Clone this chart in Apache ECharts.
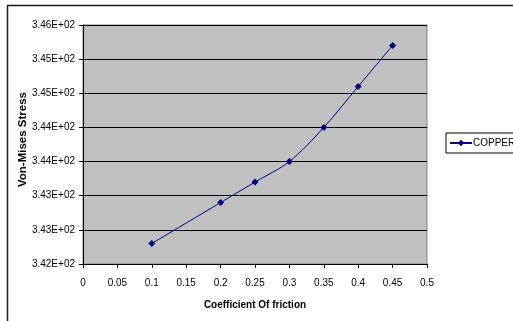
<!DOCTYPE html>
<html>
<head>
<meta charset="utf-8">
<script src="https://cdn.jsdelivr.net/npm/echarts@6/dist/echarts.min.js"></script>
<style>
  html, body { margin: 0; padding: 0; background: #fff; }
  #chart { width: 513px; height: 321px; }
</style>
</head>
<body>
<div id="chart"></div>
<script>
// Von-Mises stress against coefficient of friction for copper
var friction = [0.1, 0.2, 0.25, 0.3, 0.35, 0.4, 0.45];
var copperStress = [342.3, 342.9, 343.2, 343.5, 344.0, 344.6, 345.2];
var seriesName = 'COPPER';
var xTitle = 'Coefficient Of friction';
var yTitle = 'Von-Mises Stress';

var chart = echarts.init(document.getElementById('chart'), null, { renderer: 'canvas' });
var font = 'Liberation Sans, Arial, sans-serif';

chart.setOption({
  animation: false,
  backgroundColor: '#ffffff',
  graphic: [{
    type: 'rect',
    shape: { x: 7.5, y: 5.5, width: 530, height: 340 },
    style: { fill: 'none', stroke: '#1a1a1a', lineWidth: 1.5 },
    silent: true
  }],
  grid: {
    left: 83, right: 86, top: 25, bottom: 57,
    show: true,
    backgroundColor: '#c0c0c0',
    borderColor: '#808080',
    borderWidth: 1
  },
  legend: {
    left: 446, top: 133,
    orient: 'vertical',
    itemWidth: 22, itemHeight: 8,
    itemGap: 0,
    padding: [5, 6, 5, 3],
    borderColor: '#000', borderWidth: 1,
    backgroundColor: '#fff',
    textStyle: { fontFamily: font, fontSize: 10, color: '#000', padding: [0, 0, 0, -4] },
    data: [seriesName]
  },
  xAxis: {
    type: 'value',
    min: 0, max: 0.5, interval: 0.05,
    name: xTitle,
    nameLocation: 'middle',
    nameGap: 36,
    nameMoveOverlap: false,
    nameTextStyle: { fontFamily: font, fontSize: 10, fontWeight: 'bold', color: '#000' },
    axisLine: { lineStyle: { color: '#000', width: 1 } },
    axisTick: { show: true, length: 4, lineStyle: { color: '#000' } },
    axisLabel: {
      fontFamily: font, fontSize: 10, color: '#000', margin: 14,
      formatter: function (v) { return String(+v.toFixed(2)); }
    },
    splitLine: { show: false }
  },
  yAxis: {
    type: 'value',
    min: 342, max: 345.5, interval: 0.5,
    name: yTitle,
    nameLocation: 'middle',
    nameGap: 54,
    nameMoveOverlap: false,
    nameTextStyle: {
      fontFamily: font, fontSize: 11.5, fontWeight: 'bold', color: '#000',
      padding: [0, 0, 0, 10]
    },
    axisLine: { show: true, lineStyle: { color: '#000', width: 1 } },
    axisTick: { show: true, length: 4, lineStyle: { color: '#000' } },
    axisLabel: {
      fontFamily: font, fontSize: 10, color: '#000', margin: 8,
      formatter: function (v) { return (Math.round(v) / 100).toFixed(2) + 'E+02'; }
    },
    splitLine: { show: true, lineStyle: { color: '#000', width: 1 } }
  },
  series: [{
    name: seriesName,
    type: 'line',
    data: friction.map(function (x, i) { return [x, copperStress[i]]; }),
    smooth: 0.3,
    symbol: 'diamond',
    symbolSize: 7,
    itemStyle: { color: '#000080' },
    lineStyle: { color: '#000080', width: 1 }
  }]
});
</script>
</body>
</html>
